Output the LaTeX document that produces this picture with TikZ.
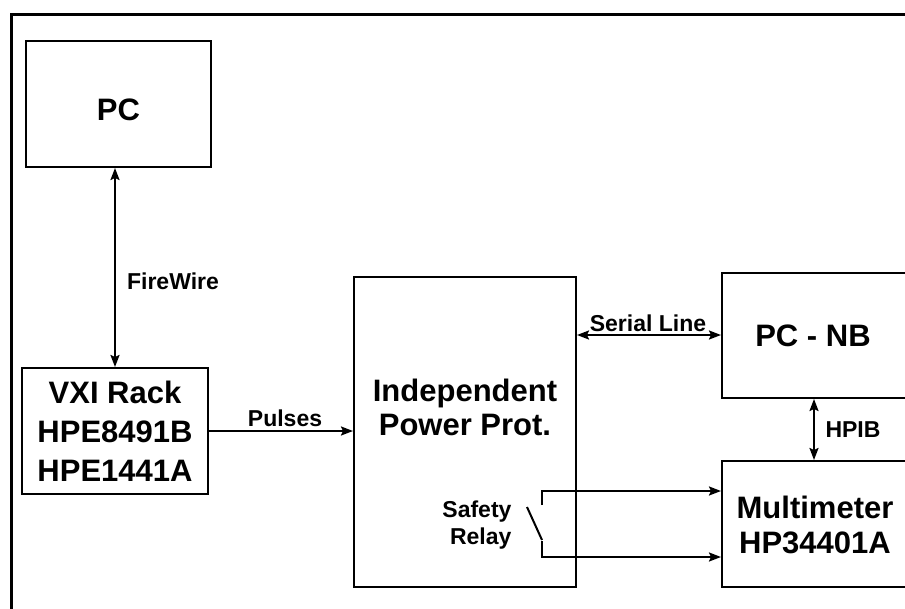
\documentclass[tikz,border=0pt]{standalone}
\usepackage{fontspec}
\setmainfont{Liberation Sans}
\usetikzlibrary{arrows.meta,calc}
\tikzset{
  box/.style={draw, line width=2pt, inner sep=0pt},
  big/.style={font=\bfseries\fontsize{31}{37}\selectfont, align=center},
  small/.style={font=\bfseries\fontsize{23}{27}\selectfont},
  conn/.style={line width=2pt},
  tip/.style={-{Stealth[length=12pt,width=9pt,inset=2pt]}},
  both/.style={{Stealth[length=12pt,width=9pt,inset=2pt]}-{Stealth[length=12pt,width=9pt,inset=2pt]}}
}
\begin{document}
\begin{tikzpicture}[x=1pt,y=-1pt]
\useasboundingbox (0,0) rectangle (905,608);
\clip (0,0) rectangle (905,608);
% outer frame
\draw[line width=3pt] (11,620) -- (11,14) -- (920,14);
% boxes
\node[box, minimum width=185pt, minimum height=126pt] (pc) at (118.5,104) {};
\node[big] (pcT) at (118.5,110) {PC};
\node[box, minimum width=186pt, minimum height=126pt] (vxi) at (115,431) {};
\node[big, font=\bfseries\fontsize{31}{39}\selectfont] (vxiT) at (115,431) {VXI Rack\\HPE8491B\\HPE1441A};
\node[box, minimum width=222pt, minimum height=310pt] (ipp) at (465,432) {};
\node[big, font=\bfseries\fontsize{31}{34}\selectfont] (ippT) at (465,407) {Independent\\Power Prot.};
\node[box, minimum width=186pt, minimum height=125pt] (pcnb) at (815,335.5) {};
\node[big] (pcnbT) at (813,336) {PC - NB};
\node[box, minimum width=186pt, minimum height=126pt] (mm) at (815,524) {};
\node[big, font=\bfseries\fontsize{31}{35}\selectfont] (mmT) at (815,524.5) {Multimeter\\HP34401A};
% connectors
\draw[conn, both] (pc.south -| 115,0) -- (vxi.north -| 115,0);
\node[small] (fw) at (173,281) {FireWire};
\draw[conn, tip] (vxi.east |- 0,431) -- (ipp.west |- 0,431);
\node[small] (pul) at (285,418) {Pulses};
\draw[conn, both] (ipp.east |- 0,335) -- (pcnb.west |- 0,335);
\node[small] (ser) at (648,323) {Serial Line};
\draw[conn, both] (pcnb.south -| 814,0) -- (mm.north -| 814,0);
\node[small, anchor=west] (hpib) at (822,430) {HPIB};
% safety relay
\coordinate (s1) at (542,505);
\coordinate (r1) at (542,491);
\coordinate (s2) at (542,541);
\coordinate (r2) at (542,557);
\coordinate (d1) at (527,507);
\coordinate (d2) at (542,540);
\draw[conn, tip] (s1) -- (r1) -- (r1 -| mm.west);
\draw[conn, tip] (s2) -- (r2) -- (r2 -| mm.west);
\draw[conn] (d1) -- (d2);
\node[small, align=right, anchor=east, font=\bfseries\fontsize{23}{27}\selectfont] (rel) at (515,525) {Safety\\Relay};
\end{tikzpicture}
\end{document}
